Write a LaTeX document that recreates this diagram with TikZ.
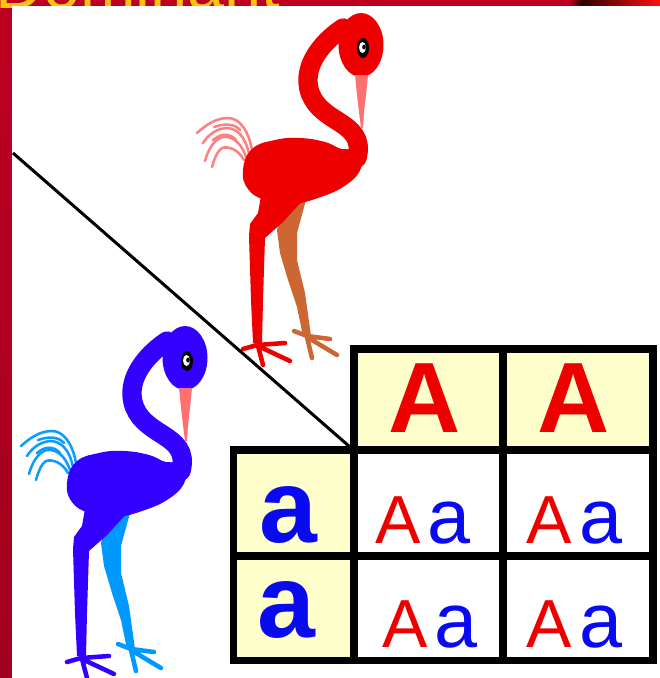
\documentclass[tikz,border=0pt]{standalone}
\usepackage{fontspec}
\setmainfont{Liberation Sans}
\definecolor{bgred}{HTML}{BD0020}
\definecolor{bardark}{HTML}{A1001F}
\definecolor{stripdark}{HTML}{2A0000}
\definecolor{stripbright}{HTML}{FF1010}
\definecolor{titleorange}{HTML}{FFC20E}
\definecolor{cellyellow}{HTML}{FFFFCC}
\definecolor{letterred}{HTML}{EE0000}
\definecolor{letterblue}{HTML}{0A0AF0}
\definecolor{redplume}{HTML}{EE0000}
\definecolor{redleg}{HTML}{CC6633}
\definecolor{redtail}{HTML}{FF8080}
\definecolor{bluplume}{HTML}{3300FF}
\definecolor{bluleg}{HTML}{0099FF}
\definecolor{blutail}{HTML}{0A9CFF}
\definecolor{beakpink}{HTML}{FF7070}

\tikzset{
  gridline/.style={line width=5.6pt, line join=miter, draw=black},
  hdrA/.style={anchor=base, inner sep=0pt, text=letterred,
    font=\fontsize{75}{75}\selectfont\bfseries},
  rowa/.style={anchor=base, inner sep=0pt, text=letterblue,
    font=\fontsize{78}{78}\selectfont\bfseries},
  cellA/.style={anchor=base, inner sep=0pt, text=letterred,
    font=\fontsize{51}{51}\selectfont},
  cella/.style={anchor=base, inner sep=0pt, text=letterblue,
    font=\fontsize{58}{58}\selectfont},
  toe/.style={line width=3.4pt, line cap=round},
  % a standing flamingo; colours come from fbody, fleg, ftail, fbeak
  flamingo/.pic={
    % tail plumes
    \begin{scope}[draw=ftail, line width=1.9pt, line cap=round]
      \draw (252,150) .. controls (248,128) and (238,118) .. (228,118)
                      .. controls (215,118) and (205,126) .. (197,133);
      \draw (249,154) .. controls (245,135) and (236,128) .. (226,128)
                      .. controls (216,129) and (208,135) .. (203,143);
      \draw (246,157) .. controls (241,142) and (232,136) .. (223,137)
                      .. controls (214,139) and (208,150) .. (205,161);
      \draw (244,160) .. controls (238,149) and (228,146) .. (222,148)
                      .. controls (217,151) and (214,160) .. (212,167);
      \draw (240,130) .. controls (235,124) and (225,123) .. (214,127);
      \draw (236,140) .. controls (230,133) and (221,133) .. (213,140);
    \end{scope}
    % back leg and foot
    \fill[fleg] (283,205) -- (277,230) -- (280,253) -- (288,280) -- (297,307)
      -- (303,336) -- (311,336) -- (305,293) -- (297,260) -- (297,233)
      -- (306,200) -- cycle;
    \draw[fleg, toe] (307,336) -- (294,331) (307,336) -- (330,339)
      (307,337) -- (337,355) (307,337) -- (312,358);
    % front leg and foot
    \fill[fbody] (262,190) -- (258,213) -- (250,224) -- (249,236) -- (251,300)
      -- (253,343) -- (262,343) -- (263,300) -- (265,238) -- (283,222)
      -- (305,198) -- cycle;
    \draw[fbody, toe] (257,345) -- (243,349) (257,345) -- (285,343)
      (258,346) -- (290,361) (258,346) -- (263,365);
    % body
    \fill[fbody] plot[smooth cycle, tension=0.75] coordinates {
      (243,170) (252,149) (275,140) (300,138) (325,142) (342,149)
      (360,150) (361,168) (346,185) (318,198) (290,204) (265,200) (248,189)};
    % neck
    \draw[fbody, line width=14.5pt, line cap=round]
      (343,28) .. controls (325,40) and (307,60) .. (308,82)
      .. controls (309,100) and (320,110) .. (336,120)
      .. controls (352,130) and (362,138) .. (357,158);
    % head
    \fill[fbody] (361,45) ellipse [x radius=22.5, y radius=32];
    % beak
    \fill[fbeak] (355,75) -- (368,75) -- (366,95) -- (364,112) -- (363,128)
      -- (361,128) -- (359,112) -- (357,95) -- cycle;
    % eye
    \fill[black] (363,48) ellipse [x radius=6, y radius=10];
    \fill[white] (362.5,47.5) ellipse [x radius=3.5, y radius=5.5];
    \fill[black] (364,47) ellipse [x radius=1.8, y radius=2.5];
  }
}

\begin{document}
\begin{tikzpicture}[x=0.75pt,y=-0.75pt]
  \useasboundingbox (0,0) rectangle (660,678);
  \clip (0,0) rectangle (660,678);

  % slide background: top strip and left bar
  \fill[bgred] (0,0) rectangle (570,8);
  \shade[left color=bgred, right color=stripdark] (569,0) rectangle (582,8);
  \shade[left color=stripdark, right color=stripbright] (581,0) rectangle (660,8);
  \shade[top color=bgred, bottom color=bardark] (0,6) rectangle (12,678);

  % slide title, mostly above the frame
  \node[anchor=base west, inner sep=0pt, text=titleorange,
        font=\fontsize{50}{50}\selectfont] (title) at (-5,8) {Dominant};

  % white picture panel
  \fill[white] (12,6) rectangle (660,678);

  % the two birds
  \begin{scope}
    \colorlet{fbody}{redplume}\colorlet{fleg}{redleg}
    \colorlet{ftail}{redtail}\colorlet{fbeak}{beakpink}
    \pic (redbird) at (0,0) {flamingo};
  \end{scope}
  \begin{scope}
    \colorlet{fbody}{bluplume}\colorlet{fleg}{bluleg}
    \colorlet{ftail}{blutail}\colorlet{fbeak}{beakpink}
    \pic (bluebird) at (-176,313) {flamingo};
  \end{scope}

  % slope line down to the corner of the square
  \coordinate (slopeTop) at (13,153);
  \coordinate (gridCorner) at (350,447);
  \draw[line width=2.25pt] (slopeTop) -- (gridCorner);

  % Punnett square
  \fill[cellyellow] (354,349) rectangle (653,450);
  \fill[cellyellow] (233.5,450) rectangle (354,660.5);
  \fill[white] (354,450) rectangle (653,660.5);
  \draw[gridline] (354,349) rectangle (653,660.5);
  \draw[gridline] (233.5,450) rectangle (354,660.5);
  \draw[gridline] (503,349) -- (503,660.5);
  \draw[gridline] (354,450) -- (653,450);
  \draw[gridline] (233.5,556) -- (653,556);

  % gametes
  \node[hdrA] (hdrA1) at (424.5,432) {A};
  \node[hdrA] (hdrA2) at (574,432) {A};
  \node[rowa] (rowa1) at (288,542) {a};
  \node[rowa] (rowa2) at (286,637) {a};

  % offspring
  \node[cellA] (c11A) at (398,543) {A};
  \node[cella] (c11a) at (448.5,543) {a};
  \node[cellA] (c12A) at (549.5,543) {A};
  \node[cella] (c12a) at (600.5,543) {a};
  \node[cellA] (c21A) at (405.5,647) {A};
  \node[cella] (c21a) at (455.5,647) {a};
  \node[cellA] (c22A) at (549.5,647) {A};
  \node[cella] (c22a) at (600.5,647) {a};
\end{tikzpicture}
\end{document}
